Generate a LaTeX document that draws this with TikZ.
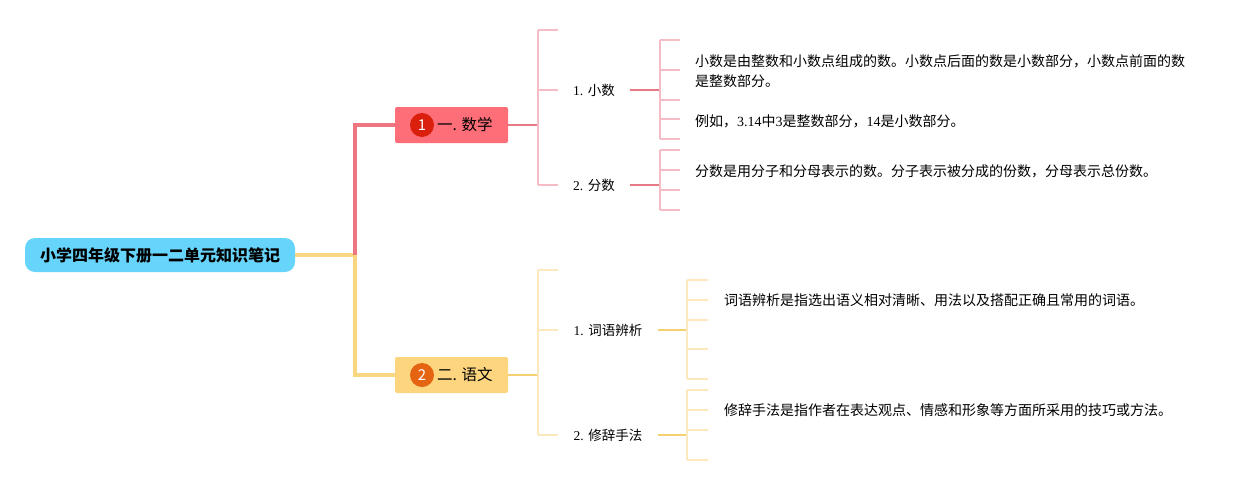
\documentclass[tikz,border=0pt]{standalone}
\usepackage{fontspec}
\setmainfont{Liberation Serif}
\newfontfamily\cjk{Noto Sans CJK SC}
\usepackage{tikz}

\definecolor{rootblue}{RGB}{103,212,251}
\definecolor{mathred}{RGB}{254,110,120}
\definecolor{redline}{RGB}{238,118,128}
\definecolor{dotred}{RGB}{218,32,12}
\definecolor{pinklight}{RGB}{246,188,198}
\definecolor{pinkmid}{RGB}{232,122,136}
\definecolor{yuwenyel}{RGB}{253,213,126}
\definecolor{yelline}{RGB}{250,214,128}
\definecolor{dotorange}{RGB}{228,100,18}
\definecolor{yellight}{RGB}{252,232,188}
\definecolor{yelmid}{RGB}{245,207,116}

\tikzset{
  root/.style={fill=rootblue, rounded corners=10pt, minimum width=270pt, minimum height=34pt,
    inner sep=0pt, font=\cjk\bfseries\fontsize{16}{16}\selectfont},
  topic/.style={rounded corners=2pt, minimum width=113pt, minimum height=36pt, inner sep=0pt},
  numdot/.style={circle, inner sep=0pt, minimum size=24pt, text=white, font=\cjk\fontsize{15}{15}\selectfont},
  topictext/.style={anchor=west, inner sep=0pt, font=\cjk\fontsize{15.5}{15.5}\selectfont},
  sub/.style={minimum height=20pt, inner sep=0pt, font=\fontsize{13.5}{13.5}\selectfont},
  leaf/.style={anchor=west, inner sep=0pt, align=left, font=\fontsize{14}{20}\selectfont},
  trunk/.style={line width=4pt},
  branch/.style={line width=2.2pt},
  bracket/.style={line width=1.8pt}
}

\begin{document}
\begin{tikzpicture}[x=1pt,y=-1pt]
\useasboundingbox (0,0) rectangle (1255,485);

% root and the two topics
\node[root] (root) at (160,255) {小学四年级下册一二单元知识笔记};

\node[topic,fill=mathred] (math) at (451.5,125) {};
\node[numdot,fill=dotred] (n1) at (422,125) {1};
\node[topictext] (mathtxt) at (437,125) {一. 数学};

\node[topic,fill=yuwenyel] (yuwen) at (451.5,375) {};
\node[numdot,fill=dotorange] (n2) at (422,375) {2};
\node[topictext] (yuwentxt) at (437,375) {二. 语文};

\coordinate (hub) at (355,255);
\draw[trunk,yelline] (root) -- (hub);
\draw[trunk,yelline] (hub) |- (yuwen);
\draw[trunk,redline] (hub) |- (math);

% math: sub topics
\node[sub,minimum width=72pt] (xs) at (594,90) {1. {\cjk 小数}};
\node[sub,minimum width=72pt] (fs) at (594,185) {2. {\cjk 分数}};

\coordinate (mb) at (538,125);
\draw[branch,pinkmid] (math) -- (mb);
\draw[bracket,pinklight] (538,30) -- (538,185);
\draw[bracket,pinklight] (538,30) -- (558,30);
\draw[bracket,pinklight] (538,90) -- (xs.west);
\draw[bracket,pinklight] (538,185) -- (fs.west);

\coordinate (xsb) at (660,90);
\coordinate (fsb) at (660,185);
\draw[branch,pinkmid] (xs.east) -- (xsb);
\draw[branch,pinkmid] (fs.east) -- (fsb);
\draw[bracket,pinklight] (660,40) -- (660,139);
\draw[bracket,pinklight] (660,150) -- (660,210);
\foreach \y in {40,70,100,119,139,150,170,190,210}{
    \draw[bracket,pinklight] (660,\y) -- (680,\y);
}

\node[leaf] (xs1) at (695,71) {{\cjk 小数是由整数和小数点组成的数。小数点后面的数是小数部分，小数点前面的数}\\{\cjk 是整数部分。}};
\node[leaf] (xs2) at (695,121) {{\cjk 例如，}3.14{\cjk 中}3{\cjk 是整数部分，}14{\cjk 是小数部分。}};
\node[leaf] (fs1) at (695,171) {\cjk 分数是用分子和分母表示的数。分子表示被分成的份数，分母表示总份数。};

% yuwen: sub topics
\node[sub,minimum width=100pt] (cy) at (608,330) {1. {\cjk 词语辨析}};
\node[sub,minimum width=100pt] (xc) at (608,435) {2. {\cjk 修辞手法}};

\coordinate (yb) at (538,375);
\draw[branch,yelmid] (yuwen) -- (yb);
\draw[bracket,yellight] (538,270) -- (538,435);
\draw[bracket,yellight] (538,270) -- (558,270);
\draw[bracket,yellight] (538,330) -- (cy.west);
\draw[bracket,yellight] (538,435) -- (xc.west);

\coordinate (cyb) at (687,330);
\coordinate (xcb) at (687,435);
\draw[branch,yelmid] (cy.east) -- (cyb);
\draw[branch,yelmid] (xc.east) -- (xcb);
\draw[bracket,yellight] (687,280) -- (687,379);
\draw[bracket,yellight] (687,390) -- (687,460);
\foreach \y in {280,300,320,349,379,390,410,430,460}{
    \draw[bracket,yellight] (687,\y) -- (708,\y);
}

\node[leaf] (cy1) at (724,300) {\cjk 词语辨析是指选出语义相对清晰、用法以及搭配正确且常用的词语。};
\node[leaf] (xc1) at (724,410) {\cjk 修辞手法是指作者在表达观点、情感和形象等方面所采用的技巧或方法。};
\end{tikzpicture}
\end{document}
